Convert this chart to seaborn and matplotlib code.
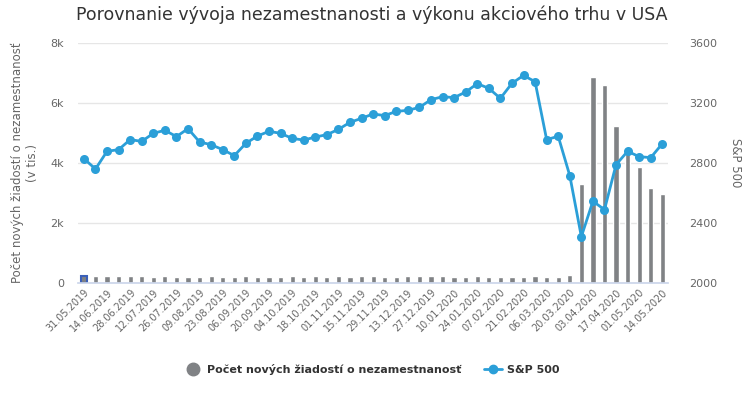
import matplotlib as mpl
import matplotlib.pyplot as plt
import numpy as np
import seaborn as sns
from matplotlib.lines import Line2D

mpl.use('Agg')

# weekly dates (category labels)
dates = ['31.05.2019', '07.06.2019', '14.06.2019', '21.06.2019', '28.06.2019', '05.07.2019',
         '12.07.2019', '19.07.2019', '26.07.2019', '02.08.2019', '09.08.2019', '16.08.2019',
         '23.08.2019', '30.08.2019', '06.09.2019', '13.09.2019', '20.09.2019', '27.09.2019',
         '04.10.2019', '11.10.2019', '18.10.2019', '25.10.2019', '01.11.2019', '08.11.2019',
         '15.11.2019', '22.11.2019', '29.11.2019', '06.12.2019', '13.12.2019', '20.12.2019',
         '27.12.2019', '03.01.2020', '10.01.2020', '17.01.2020', '24.01.2020', '31.01.2020',
         '07.02.2020', '14.02.2020', '21.02.2020', '28.02.2020', '06.03.2020', '13.03.2020',
         '20.03.2020', '27.03.2020', '03.04.2020', '10.04.2020', '17.04.2020', '24.04.2020',
         '01.05.2020', '08.05.2020', '14.05.2020']

# new unemployment claims (thousands)
claims = [218, 222, 220, 225, 221, 223, 209, 222, 210, 211, 209, 220, 212, 210, 221, 206, 208,
          210, 222, 209, 220, 212, 221, 211, 225, 227, 213, 203, 230, 234, 222, 220, 214, 204,
          223, 216, 202, 205, 210, 219, 216, 211, 251, 3307, 6867, 6615, 5237, 4442, 3867,
          3176, 2981]

# S&P 500 weekly close
sp500 = [2829, 2760, 2878, 2889, 2956, 2944, 2998, 3018, 2976, 3029, 2940, 2922, 2889, 2849,
         2931, 2980, 3011, 2998, 2964, 2953, 2973, 2989, 3024, 3071, 3098, 3127, 3116, 3144,
         3151, 3171, 3222, 3242, 3236, 3273, 3329, 3298, 3231, 3331, 3384, 3342, 2956, 2978,
         2716, 2309, 2545, 2489, 2789, 2878, 2842, 2836, 2929]

bar_color = '#808285'
line_color = '#2b9fd8'
text_color = '#666666'

sns.set_theme(style='white', rc={'font.family': 'DejaVu Sans'})

fig = plt.figure(figsize=(7.44, 4.0), dpi=100)
ax = fig.add_axes([0.105, 0.2925, 0.793, 0.6])

x = np.arange(len(dates))
sns.barplot(x=x, y=claims, color=bar_color, width=0.45, saturation=1, ax=ax, native_scale=True)
# hover highlight on the first bar, as in the original screenshot
ax.patches[0].set_edgecolor('#3a5fb8')
ax.patches[0].set_linewidth(1.5)

ax.set_xlim(-0.5, len(dates) - 0.5)
ax.set_ylim(0, 8000)
ax.set_yticks([0, 2000, 4000, 6000, 8000])
ax.set_yticklabels(['0', '2k', '4k', '6k', '8k'])
ax.yaxis.grid(True, color='#e6e6e6', linewidth=1)
ax.set_axisbelow(True)
ax.set_xticks(x[::2])
ax.set_xticklabels(dates[::2], rotation=45, ha='right', rotation_mode='anchor')
for s in ['top', 'left', 'right']:
    ax.spines[s].set_visible(False)
ax.spines['bottom'].set_color('#ccd6eb')
ax.tick_params(axis='y', length=0, labelsize=8, labelcolor=text_color, pad=10)
ax.tick_params(axis='x', length=0, labelsize=7, labelcolor=text_color, pad=3)
ax.set_ylabel('Počet nových žiadostí o nezamestnanosť\n(v tis.)', fontsize=8.5, color=text_color,
              labelpad=8)
ax.set_xlabel('')

ax2 = ax.twinx()
sns.lineplot(x=x, y=sp500, color=line_color, linewidth=2, marker='o', markersize=6.5,
             markeredgewidth=0, ax=ax2)
ax2.set_ylim(2000, 3600)
ax2.set_yticks([2000, 2400, 2800, 3200, 3600])
for s in ['top', 'left', 'right', 'bottom']:
    ax2.spines[s].set_visible(False)
ax2.tick_params(axis='y', length=0, labelsize=8, labelcolor=text_color, pad=15)
ax2.set_ylabel('S&P 500', fontsize=8.5, color=text_color, rotation=270, labelpad=18)

fig.suptitle('Porovnanie vývoja nezamestnanosti a výkonu akciového trhu v USA',
             x=0.5, y=0.985, fontsize=12.5, color='#333333')

handles = [Line2D([], [], linestyle='none', marker='o', markersize=9, color=bar_color),
           Line2D([], [], color=line_color, linewidth=2, marker='o', markersize=6)]
fig.legend(handles, ['Počet nových žiadostí o nezamestnanosť', 'S&P 500'], loc='center',
           bbox_to_anchor=(0.5, 0.077), ncol=2, frameon=False, handlelength=1.6,
           columnspacing=2.0, handletextpad=0.5,
           prop={'size': 8, 'weight': 'bold'}, labelcolor='#333333')

plt.savefig('out.png', dpi=100)
plt.close()
